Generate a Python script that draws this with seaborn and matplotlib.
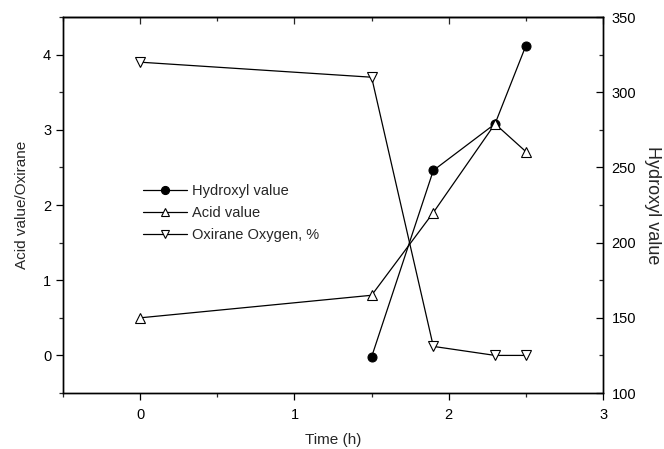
import matplotlib
matplotlib.use("Agg")
import matplotlib.pyplot as plt
import seaborn as sns
import pandas as pd
from matplotlib.ticker import MultipleLocator, NullFormatter

# Data
time_hydroxyl = [1.5, 1.9, 2.3, 2.5]
hydroxyl_value = [124, 248, 279, 331]
time_acid = [0.0, 1.5, 1.9, 2.3, 2.5]
acid_value = [0.5, 0.8, 1.9, 3.08, 2.71]
time_oxirane = [0.0, 1.5, 1.9, 2.3, 2.5]
oxirane_oxygen = [3.9, 3.7, 0.12, 0.0, 0.0]

sns.set_style("white")
plt.rcParams['font.family'] = ['Liberation Sans', 'DejaVu Sans']

fig = plt.figure(figsize=(6.64, 4.49), dpi=100)
ax = fig.add_axes([0.0949, 0.1247, 0.8133, 0.8373])
ax2 = ax.twinx()

df_acid = pd.DataFrame({"t": time_acid, "v": acid_value})
df_ox = pd.DataFrame({"t": time_oxirane, "v": oxirane_oxygen})
df_hy = pd.DataFrame({"t": time_hydroxyl, "v": hydroxyl_value})

sns.lineplot(data=df_acid, x="t", y="v", ax=ax, color="black", lw=0.9,
             marker="^", markersize=6.5, markerfacecolor="white",
             markeredgecolor="black", markeredgewidth=0.8, label="Acid value", legend=False)
sns.lineplot(data=df_ox, x="t", y="v", ax=ax, color="black", lw=0.9,
             marker="v", markersize=6.5, markerfacecolor="white",
             markeredgecolor="black", markeredgewidth=0.8, label="Oxirane Oxygen, %", legend=False)
sns.lineplot(data=df_hy, x="t", y="v", ax=ax2, color="black", lw=0.9,
             marker="o", markersize=6.5, markerfacecolor="black",
             markeredgecolor="black", label="Hydroxyl value", legend=False)

ax.set_xlim(-0.5, 3)
ax.set_ylim(-0.5, 4.5)
ax2.set_ylim(100, 350)

ax.xaxis.set_major_locator(MultipleLocator(1))
ax.xaxis.set_minor_locator(MultipleLocator(0.5))
ax.yaxis.set_major_locator(MultipleLocator(1))
ax.yaxis.set_minor_locator(MultipleLocator(0.5))
ax2.yaxis.set_major_locator(MultipleLocator(50))
ax2.yaxis.set_minor_locator(MultipleLocator(25))

ax.tick_params(axis='both', which='major', direction='out', length=5, width=0.9,
               labelsize=10.5, colors='black', bottom=True, left=True, top=False)
ax.tick_params(axis='both', which='minor', direction='out', length=3, width=0.9,
               bottom=True, left=True, top=False)
ax.tick_params(axis='x', which='major', pad=6)
ax2.tick_params(axis='y', which='major', direction='in', length=5, width=0.9,
                labelsize=10.5, colors='black', pad=6)
ax2.tick_params(axis='y', which='minor', direction='in', length=3, width=0.9)

# inward ticks along the top edge
top = ax.secondary_xaxis('top')
top.xaxis.set_major_locator(MultipleLocator(1))
top.xaxis.set_minor_locator(MultipleLocator(0.5))
top.xaxis.set_major_formatter(NullFormatter())
top.tick_params(axis='x', which='major', direction='in', length=5, width=0.9)
top.tick_params(axis='x', which='minor', direction='in', length=3, width=0.9)
top.spines['top'].set_linewidth(1.0)

for a in (ax, ax2):
    for s in a.spines.values():
        s.set_color('black')
        s.set_linewidth(1.0)
        s.set_visible(True)

ax.set_xlabel("Time (h)", fontsize=11, labelpad=8)
ax.set_ylabel("Acid value/Oxirane", fontsize=11, labelpad=10)
ax2.set_ylabel("Hydroxyl value", fontsize=13, rotation=270, labelpad=18)

h1, l1 = ax2.get_legend_handles_labels()
h2, l2 = ax.get_legend_handles_labels()
leg = ax.legend(h1 + h2, l1 + l2, loc='upper left', bbox_to_anchor=(0.137, 0.572),
                frameon=False, fontsize=10.5, handlelength=3.0, handletextpad=0.4,
                labelspacing=0.55, borderaxespad=0, markerscale=0.9)
ax.set_zorder(ax2.get_zorder() + 1)
ax.patch.set_visible(False)

fig.savefig("out.png", dpi=100)
